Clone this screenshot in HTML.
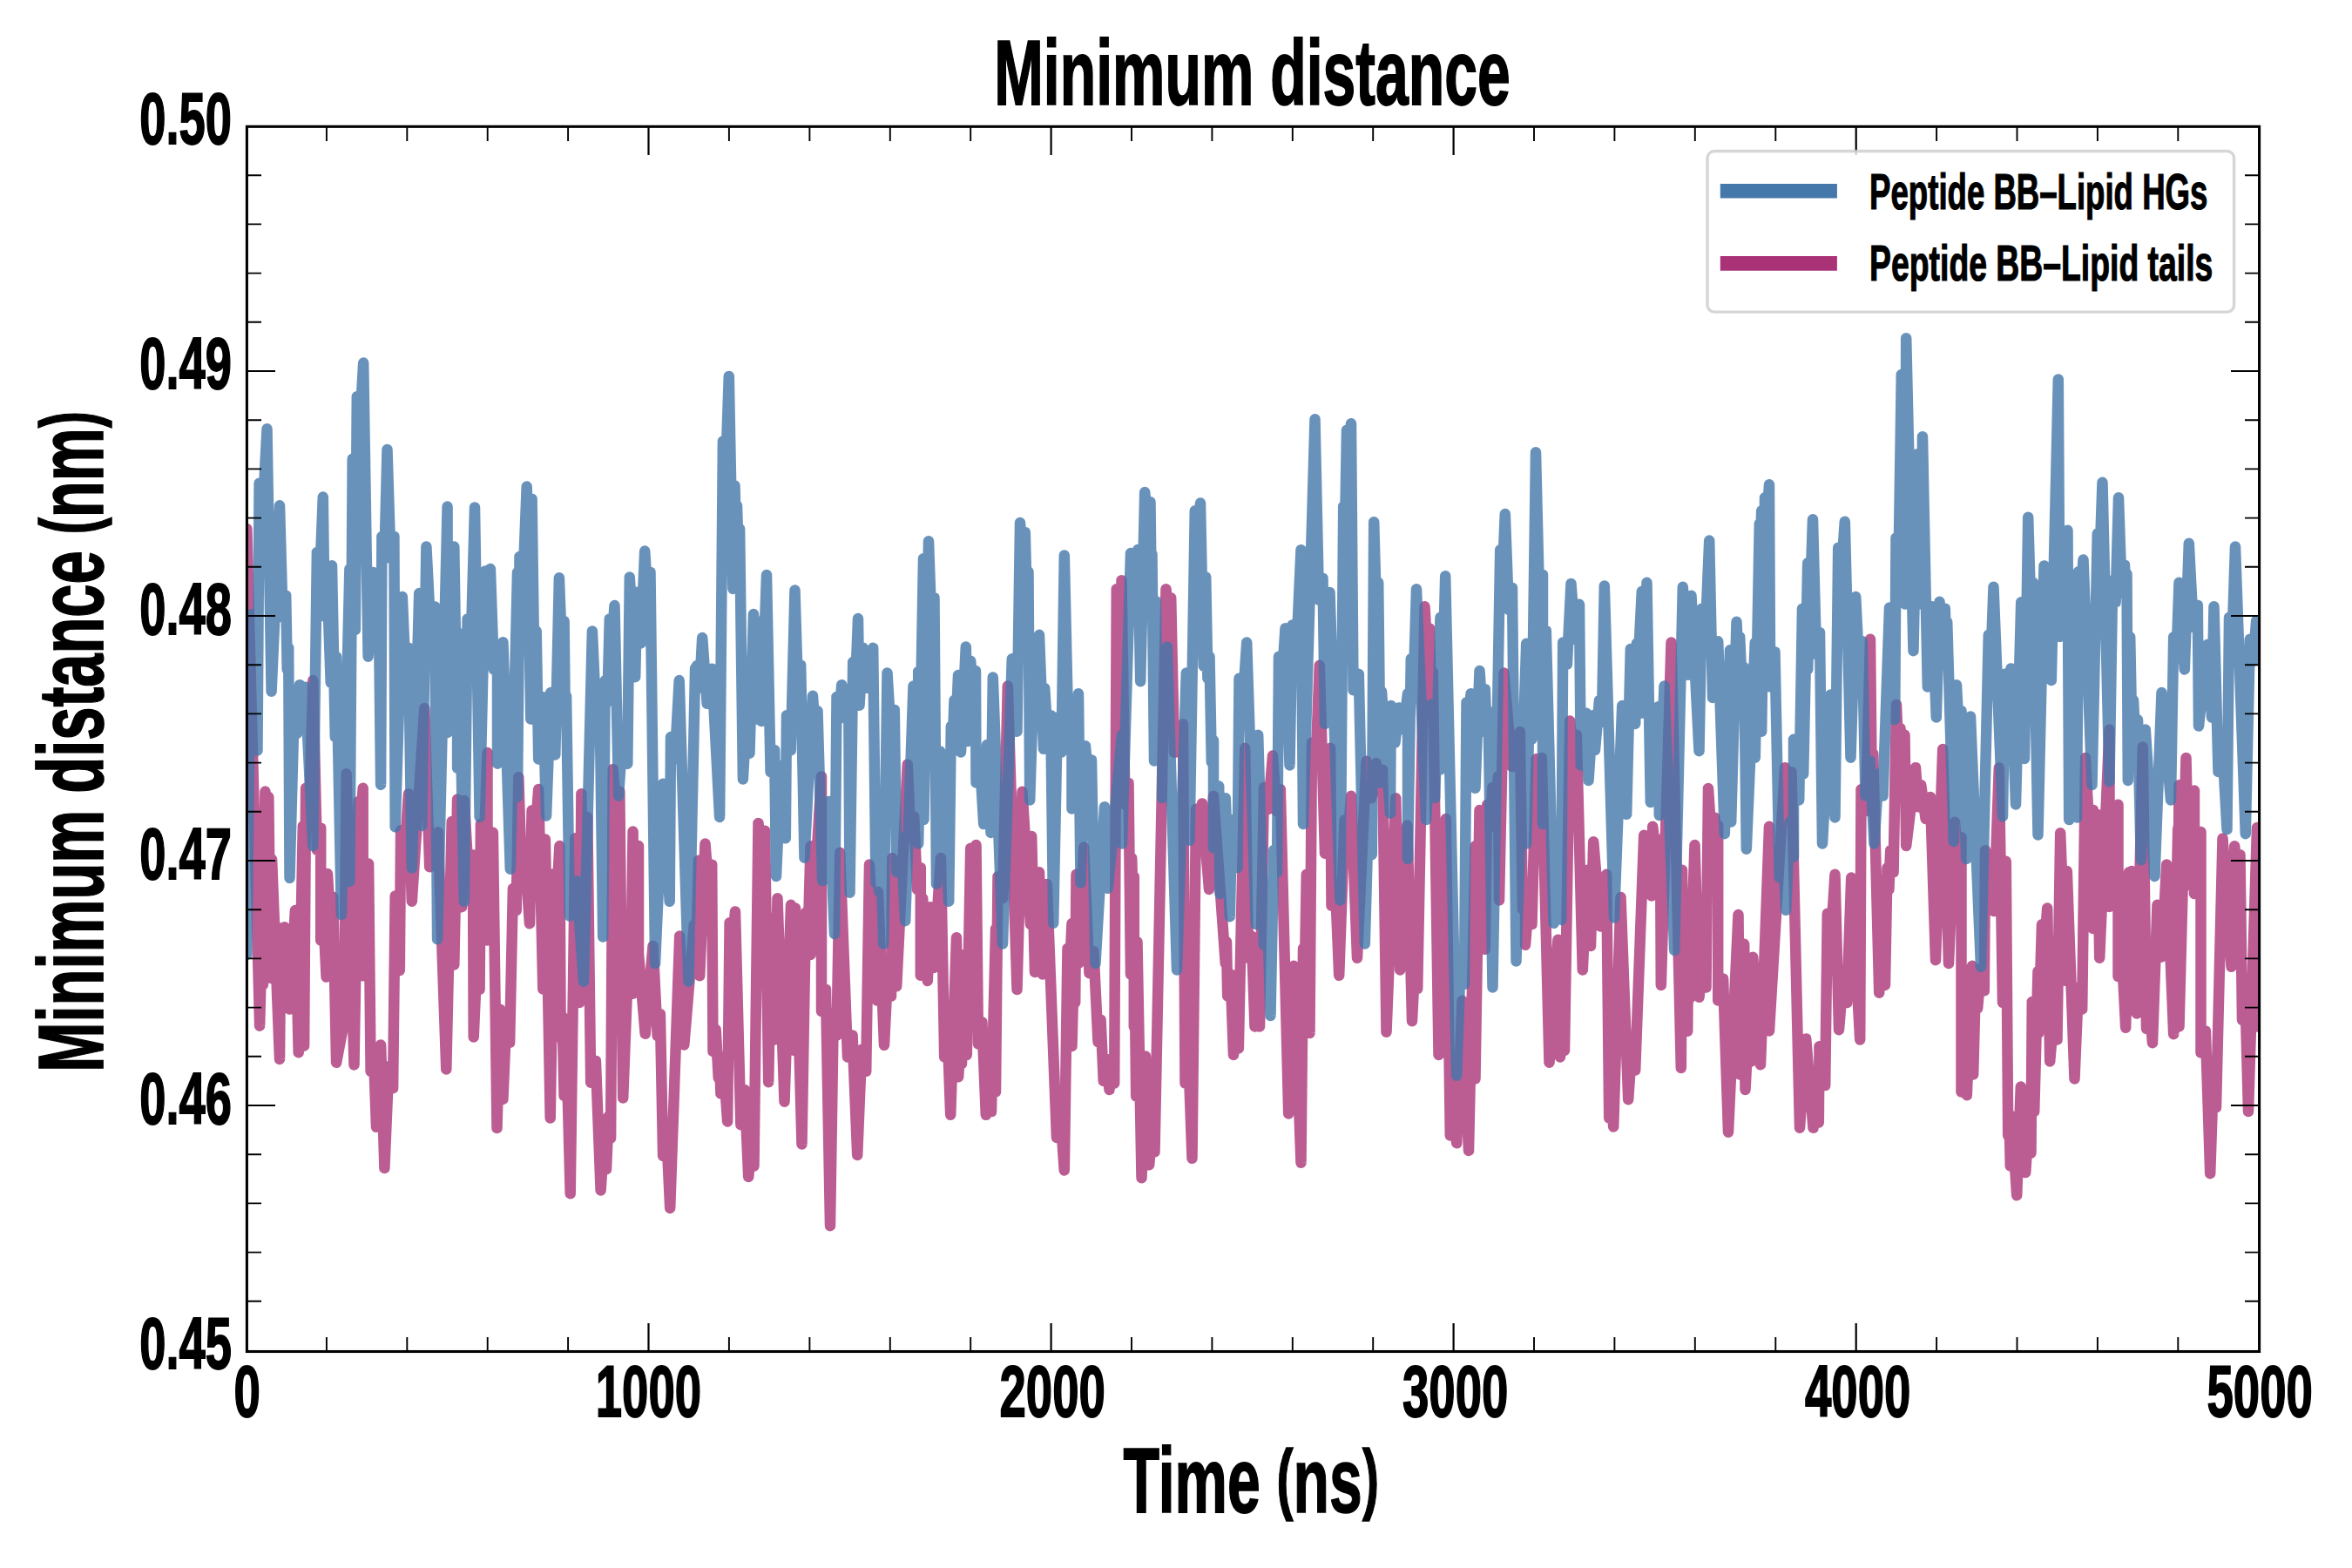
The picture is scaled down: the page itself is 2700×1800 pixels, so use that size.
<!DOCTYPE html>
<html><head><meta charset="utf-8"><title>Minimum distance</title>
<style>html,body{margin:0;padding:0;background:#fff;}svg{display:block;}text{font-family:"Liberation Sans",sans-serif;font-weight:bold;fill:#000;stroke:#000;stroke-width:1.5px;vector-effect:non-scaling-stroke;stroke-linejoin:miter;}</style></head><body>
<svg width="2700" height="1800" viewBox="0 0 2700 1800">
<rect x="0" y="0" width="2700" height="1800" fill="#ffffff"/>
<defs><clipPath id="c"><rect x="283.4" y="145.3" width="2310.2" height="1406.2"/></clipPath></defs>
<g clip-path="url(#c)" fill="none" stroke-linejoin="round" stroke-linecap="round" stroke-width="12.5">
<polyline stroke="#AA3377" stroke-opacity="0.8" points="283.4,607.1 298.1,1177.7 300.0,1105.5 301.9,1130.5 304.4,908.6 306.4,940.0 308.3,915.0 310.8,1122.9 312.1,986.5 321.0,1216.0 322.3,1065.5 324.5,1105.5 326.6,1064.3 332.5,1158.6 338.9,1045.1 342.7,1208.3 347.8,948.2 349.1,1200.7 351.1,904.8 355.2,929.8 359.3,781.1 363.8,975.7 368.2,950.7 368.2,1079.5 371.4,1054.5 374.6,1121.6 375.9,1003.0 379.1,1054.8 382.2,1029.8 386.1,1219.8 391.9,1189.3 395.0,1173.9 397.6,888.2 406.5,1222.4 411.6,920.1 414.1,945.1 416.7,904.8 416.7,1120.3 423.1,991.6 425.6,1230.0 428.8,1205.0 432.0,1293.8 437.1,1199.5 441.4,1341.0 446.3,1224.2 451.1,1249.2 453.7,1028.5 458.8,1114.0 460.1,953.3 464.5,978.3 469.0,911.2 472.8,1034.8 487.3,813.0 493.2,995.3 502.8,955.3 512.3,1227.5 518.7,943.1 521.3,1107.6 525.1,917.6 530.2,1041.2 532.8,918.9 537.9,1006.4 543.0,981.4 543.7,1190.5 547.2,1110.6 550.6,1135.6 551.9,945.6 555.7,970.6 559.5,864.0 559.5,1079.5 565.9,955.8 570.5,1295.1 574.1,1158.7 577.4,1261.9 581.2,1171.9 585.1,1196.9 588.9,1020.0 592.7,1045.0 595.3,892.1 598.4,993.6 601.6,968.6 608.0,1060.3 610.6,930.3 614.4,955.3 618.2,906.1 623.3,1135.6 625.9,963.5 631.7,1283.6 636.1,1003.0 639.3,1028.0 642.4,971.1 643.7,1191.8 645.6,1166.8 647.6,1258.1 651.1,1233.1 654.7,1370.3 660.3,962.2 665.4,1150.9 667.4,911.2 670.3,1140.0 673.1,1100.0 673.7,1125.0 674.3,938.0 678.2,1242.8 683.9,1217.8 689.6,1366.5 692.8,1317.3 696.0,1342.3 698.6,1281.6 701.1,1306.6 703.7,883.1 707.5,933.6 711.3,908.6 715.2,1260.6 721.5,1094.9 724.1,1134.9 726.6,954.6 726.6,1140.7 733.0,971.1 733.0,1119.9 733.0,1094.9 740.7,1186.7 749.6,1085.9 754.7,1189.2 757.9,1164.2 761.1,1327.0 765.2,1302.0 769.2,1386.9 780.2,1074.5 785.3,1199.4 796.8,1061.8 799.3,1086.8 801.9,987.7 803.2,1120.3 809.5,968.6 813.4,1017.8 817.2,992.8 818.5,1207.1 821.7,1182.1 824.8,1237.7 826.1,1212.7 827.4,1255.5 831.2,1230.5 835.1,1287.4 837.6,1059.2 840.8,1084.2 844.0,1046.4 850.4,1291.3 854.8,1251.3 859.2,1351.0 862.4,1313.5 865.5,1338.5 870.5,945.0 874.2,978.8 878.0,953.8 882.2,1242.2 885.5,1053.8 889.2,1193.5 892.5,1031.2 900.5,1264.8 908.0,1038.8 911.8,1206.0 913.0,1042.5 920.5,1313.5 925.0,1047.5 927.8,1072.5 930.5,971.2 930.5,1096.0 943.0,891.2 943.0,1161.0 948.0,1136.0 953.0,1407.2 956.8,1163.5 960.5,1188.5 964.2,978.8 973.0,1213.5 978.6,1188.5 984.2,1326.0 989.2,1204.8 994.2,1229.8 998.0,992.5 1006.8,1148.5 1008.0,1023.8 1015.0,1199.8 1019.0,1118.5 1023.0,1143.5 1024.2,985.0 1029.2,1132.2 1041.8,877.5 1045.5,962.5 1049.2,937.5 1053.0,1021.2 1056.8,996.2 1056.8,1119.8 1059.2,1031.2 1064.8,1126.0 1068.0,1041.2 1071.8,1111.0 1080.0,985.0 1084.2,1213.5 1087.8,1188.5 1091.2,1279.8 1098.0,1076.2 1100.2,1236.2 1102.5,1196.2 1104.0,1221.2 1105.5,1096.2 1109.8,1211.0 1114.2,973.8 1117.4,1013.8 1120.5,970.0 1123.0,1198.5 1127.4,1173.5 1131.8,1279.8 1134.9,1251.0 1138.0,1276.0 1143.0,1066.2 1143.0,1253.5 1145.5,1006.2 1151.1,1031.2 1156.8,787.5 1167.5,1136.0 1173.5,908.8 1183.0,1061.0 1184.2,960.0 1188.0,1116.0 1193.0,1001.2 1196.8,1118.5 1201.8,1015.0 1213.0,1306.0 1217.4,1281.0 1221.8,1343.5 1225.5,1088.8 1228.0,1113.8 1230.5,1060.0 1230.5,1201.0 1232.4,1126.0 1234.2,1151.0 1235.5,1003.8 1238.0,1106.0 1244.2,972.5 1250.5,1117.2 1255.5,1092.2 1260.5,1196.0 1263.6,1171.0 1266.8,1241.0 1270.1,1216.0 1273.5,1251.0 1276.4,1218.5 1279.2,1243.5 1281.8,676.2 1281.8,918.8 1281.8,893.8 1284.6,918.8 1287.5,666.2 1291.5,923.8 1295.5,898.8 1298.0,1118.5 1299.2,985.0 1300.5,1031.2 1301.8,1006.2 1301.8,1178.5 1303.0,1153.5 1304.2,1258.5 1305.5,1081.2 1310.5,1352.2 1315.0,1212.5 1319.2,1337.2 1322.4,1297.2 1325.5,1322.2 1338.5,676.2 1341.4,711.2 1344.2,686.2 1348.0,863.8 1351.8,838.8 1354.9,863.8 1358.0,831.2 1360.5,1243.5 1364.5,1218.5 1368.5,1329.8 1373.0,928.8 1376.5,953.8 1380.0,922.5 1388.0,1021.0 1393.0,913.8 1406.8,1106.0 1408.0,1081.0 1409.2,1143.5 1412.6,1118.5 1416.0,1211.0 1418.9,1178.5 1421.8,1203.5 1429.2,858.8 1433.0,1099.8 1436.8,1074.8 1440.5,1178.5 1443.2,1138.5 1446.0,1178.5 1451.0,903.8 1456.0,928.8 1461.0,867.5 1465.4,931.2 1469.8,906.2 1479.2,1278.5 1485.2,1108.8 1493.5,1334.8 1496.0,1088.8 1497.9,1113.8 1499.8,1003.8 1503.5,1186.0 1506.0,852.5 1510.4,877.5 1514.8,763.8 1521.0,979.8 1527.2,858.8 1528.5,1039.8 1532.9,1014.8 1537.2,1119.8 1543.5,941.2 1547.2,966.2 1551.0,913.8 1558.0,1099.8 1568.5,873.8 1574.1,916.2 1579.8,876.2 1583.5,908.8 1587.2,883.8 1591.5,1184.8 1602.2,916.2 1607.2,1113.5 1615.5,947.5 1621.0,1172.2 1624.1,1109.8 1627.2,1134.8 1635.5,696.2 1638.2,746.2 1641.0,721.2 1642.9,796.2 1644.8,771.2 1651.5,1211.0 1659.8,940.0 1664.8,1303.5 1668.5,1278.5 1672.2,1312.2 1678.5,1148.8 1686.0,1321.0 1693.5,971.2 1693.5,1238.5 1698.5,930.0 1704.8,1089.8 1707.2,923.8 1710.4,948.8 1713.5,903.8 1716.6,928.8 1719.8,891.2 1721.0,1033.5 1726.5,772.5 1735.6,880.0 1744.8,840.0 1747.9,1043.8 1751.0,1018.8 1751.0,1084.8 1754.8,1036.0 1758.5,1061.0 1763.5,871.2 1766.6,896.2 1769.8,870.0 1778.5,1219.8 1788.5,1078.8 1791.0,1213.5 1793.5,1181.0 1796.0,1206.0 1802.2,827.5 1806.0,868.8 1809.8,843.8 1816.8,1113.5 1822.2,998.8 1826.0,1086.0 1829.2,966.2 1837.2,1063.5 1844.2,1003.8 1847.2,1283.5 1849.8,1258.5 1852.2,1293.5 1860.5,1030.0 1869.2,1262.2 1873.2,1203.5 1877.2,1228.5 1887.2,958.8 1889.8,1016.0 1892.9,991.0 1896.0,1028.5 1897.2,948.8 1901.6,988.8 1906.0,963.8 1906.8,1131.0 1918.5,737.5 1929.8,1226.0 1931.0,998.8 1933.5,1183.8 1936.0,1158.8 1937.2,1183.8 1938.5,1038.8 1939.8,1146.0 1945.5,970.0 1950.5,1144.8 1954.5,1108.5 1958.5,1133.5 1961.0,905.0 1964.8,963.8 1968.5,938.8 1970.4,972.5 1972.2,947.5 1972.2,1148.5 1978.1,1123.5 1984.0,1299.8 1995.5,1050.0 1997.2,1233.5 2002.2,1083.8 2003.5,1251.0 2006.6,1193.5 2009.8,1218.5 2012.2,1098.8 2021.0,1222.2 2031.0,948.8 2031.0,1183.5 2049.0,881.2 2052.8,911.2 2056.5,886.2 2066.0,1294.8 2073.2,1192.5 2081.5,1294.8 2084.6,1263.5 2087.8,1288.5 2088.5,1201.2 2095.2,1246.0 2097.8,1048.8 2102.1,1073.8 2106.5,1003.8 2111.0,1182.2 2115.6,1126.0 2120.2,1151.0 2125.2,1007.5 2135.2,1193.5 2136.5,906.2 2141.8,931.2 2147.0,733.8 2148.6,890.0 2150.2,865.0 2157.2,1139.8 2159.0,1018.8 2164.0,1131.0 2166.5,996.2 2168.4,1021.2 2170.2,976.2 2173.6,1001.2 2177.0,808.8 2179.2,861.2 2181.5,836.2 2184.0,868.8 2186.5,843.8 2188.2,971.0 2199.0,881.2 2202.1,926.2 2205.2,901.2 2210.6,940.0 2216.0,915.0 2222.0,1102.2 2230.2,860.0 2237.0,1106.0 2244.0,943.8 2247.8,986.2 2251.5,961.2 2251.5,1253.5 2254.6,1228.5 2257.8,1257.2 2264.0,1108.8 2265.2,1233.5 2267.8,1132.2 2270.2,1157.2 2274.0,1112.2 2277.8,1137.2 2279.0,976.2 2289.0,1046.0 2294.8,881.2 2299.0,1151.0 2302.8,988.8 2305.2,1303.5 2306.5,1278.5 2307.8,1338.5 2311.5,1313.5 2315.2,1372.2 2319.8,1247.5 2325.2,1346.0 2328.4,1298.5 2331.5,1323.5 2332.8,1150.0 2335.2,1276.0 2339.5,1115.0 2340.2,1186.0 2344.0,1061.2 2347.1,1086.2 2350.2,1042.5 2353.2,1218.5 2357.4,1168.5 2361.5,1193.5 2365.2,956.2 2371.5,1126.0 2372.8,1000.0 2381.5,1238.5 2385.9,1133.5 2390.2,1158.5 2394.0,870.0 2398.4,955.0 2402.8,930.0 2402.8,1066.0 2407.8,935.0 2410.2,1099.8 2421.5,837.5 2421.5,1041.0 2431.5,923.8 2431.5,1121.0 2435.9,1096.0 2440.2,1179.8 2444.0,1001.2 2445.5,1026.2 2447.0,1000.0 2452.8,1163.5 2459.8,857.5 2464.0,1181.0 2467.5,1156.0 2471.0,1197.2 2476.5,1038.8 2481.5,1098.5 2487.2,992.5 2495.2,1187.2 2500.2,951.2 2500.9,976.2 2501.5,901.2 2501.5,1178.5 2509.5,870.0 2512.8,1016.0 2519.0,907.5 2519.0,1026.0 2526.5,955.0 2526.5,1208.5 2531.9,1183.5 2537.2,1347.2 2540.6,1246.0 2544.0,1271.0 2551.5,962.5 2561.5,1109.8 2565.2,971.2 2568.4,1006.2 2571.5,981.2 2574.0,1171.0 2577.5,1146.0 2581.0,1276.0 2591.0,950.0 2591.0,1178.5"/>
<polyline stroke="#4477AA" stroke-opacity="0.8" points="283.4,1096.1 287.9,705.3 295.5,861.4 297.6,554.8 302.0,579.8 306.5,492.3 311.6,793.8 321.0,580.3 324.6,708.6 328.2,683.6 329.7,768.6 331.2,743.6 332.5,1008.0 337.6,816.8 340.8,841.8 344.0,786.2 347.2,813.8 350.4,788.8 359.3,971.1 363.9,633.9 367.3,658.9 370.8,570.6 372.6,707.8 376.1,682.8 379.7,783.6 381.0,649.2 384.8,846.1 386.1,753.8 391.9,1050.1 401.4,653.0 401.4,1011.9 404.7,526.8 407.8,723.1 409.8,455.3 413.5,480.3 417.2,416.6 422.6,753.7 428.2,656.9 431.4,694.6 434.5,669.6 437.1,900.9 438.4,616.0 441.4,641.0 444.5,516.0 448.4,641.0 452.4,616.0 453.7,949.4 461.8,684.9 465.4,768.6 469.0,743.6 472.8,996.6 481.2,681.1 484.3,948.1 489.4,627.5 494.2,721.4 499.1,696.4 502.1,1078.2 513.6,581.6 513.6,840.9 521.3,627.5 523.2,750.7 525.1,725.7 525.1,881.8 528.9,841.8 532.8,1034.8 536.6,710.4 540.8,735.4 545.0,582.4 550.6,937.9 557.0,655.6 559.9,695.6 562.9,653.0 566.9,768.6 571.0,743.6 571.0,876.7 577.4,737.2 585.8,997.8 594.0,656.9 594.0,914.9 596.5,639.0 600.6,664.0 604.7,558.6 609.3,825.6 610.6,572.7 613.1,749.5 615.7,724.5 618.2,871.6 623.3,800.2 627.1,936.6 632.2,795.1 637.3,866.5 641.9,663.2 644.7,738.0 647.6,713.0 648.8,824.0 650.1,799.0 653.9,1051.4 662.0,1011.4 670.0,1126.7 679.9,724.5 684.2,820.1 688.4,795.1 692.2,1075.6 694.7,781.1 697.3,806.1 699.8,710.4 702.7,735.4 705.5,695.1 710.1,913.7 715.2,836.7 720.3,876.7 722.8,662.5 729.2,777.2 731.2,679.8 735.6,738.4 740.2,632.6 743.3,681.9 746.5,656.9 752.1,1106.3 761.1,899.7 768.7,1034.8 770.0,846.1 774.8,871.1 779.7,781.1 790.4,1126.7 798.1,767.1 799.1,792.1 800.1,764.0 803.2,789.0 806.2,732.1 811.7,807.8 817.2,767.8 826.1,937.9 829.9,506.4 833.4,531.4 836.8,431.9 841.4,675.9 843.5,557.4 844.7,605.3 846.0,580.3 847.6,632.1 849.1,607.1 852.9,894.5 856.7,824.8 860.5,864.8 865.0,705.0 869.2,825.5 871.8,713.8 874.2,828.0 880.0,660.0 884.6,886.2 889.2,861.2 891.0,1006.0 896.8,878.8 901.8,962.2 903.0,821.2 907.8,861.2 912.5,677.5 915.9,788.8 919.2,763.8 923.5,984.8 933.0,798.8 935.8,841.2 938.5,816.2 944.2,1011.0 951.8,920.0 958.0,1072.2 960.5,800.0 963.4,825.0 966.2,786.2 970.5,798.5 974.2,801.2 975.5,1024.8 979.2,760.0 982.1,785.0 985.0,710.0 986.5,809.8 990.5,743.8 995.0,789.8 1002.2,743.8 1005.5,1013.5 1007.4,988.5 1009.2,1023.5 1011.8,998.5 1014.2,1083.5 1018.5,772.5 1022.6,840.0 1026.8,815.0 1029.2,1001.0 1034.2,961.0 1039.2,1057.2 1048.5,787.5 1054.2,796.0 1054.2,771.0 1054.2,968.5 1060.0,641.2 1060.5,941.0 1066.0,621.2 1069.2,711.2 1072.5,686.2 1075.0,1014.8 1079.2,862.5 1089.2,1034.8 1091.8,833.8 1093.6,858.8 1095.5,803.8 1097.8,828.8 1100.0,775.0 1103.0,863.5 1108.8,742.5 1111.0,851.0 1114.2,758.8 1117.1,795.0 1120.0,770.0 1120.5,898.5 1124.9,873.5 1129.2,946.0 1133.0,855.0 1137.5,956.0 1139.8,777.5 1151.0,1083.5 1161.8,756.2 1167.5,839.8 1171.0,600.0 1173.9,636.2 1176.8,611.2 1178.6,681.2 1180.5,656.2 1182.2,918.5 1188.0,732.5 1190.5,772.5 1193.0,728.8 1198.0,859.8 1199.2,790.0 1202.8,846.2 1206.2,821.2 1209.2,1059.8 1213.9,823.5 1218.5,863.5 1221.8,637.5 1226.1,828.8 1230.5,803.8 1230.5,928.5 1238.0,796.2 1240.5,1013.5 1246.0,856.2 1249.5,897.5 1253.0,872.5 1257.5,1106.0 1268.0,926.2 1271.8,1019.8 1288.0,843.8 1288.0,968.5 1298.0,635.0 1303.5,656.0 1306.4,631.0 1309.2,782.2 1314.2,565.0 1317.4,601.2 1320.5,576.2 1321.5,661.2 1322.5,636.2 1325.0,873.5 1326.8,690.0 1328.6,815.0 1330.5,790.0 1334.2,851.0 1334.2,826.0 1334.2,916.0 1339.8,742.5 1351.0,1113.5 1361.8,772.5 1365.5,964.8 1371.8,586.2 1374.9,611.2 1378.0,577.5 1381.8,764.8 1384.2,662.5 1386.4,778.8 1388.5,753.8 1390.8,875.0 1393.0,850.0 1393.0,973.5 1399.2,902.5 1400.5,1026.0 1406.8,916.2 1411.8,1052.2 1414.2,941.2 1420.5,996.0 1422.5,778.8 1426.9,803.8 1431.2,737.5 1441.8,1061.0 1444.2,843.8 1451.0,1084.8 1454.8,1044.8 1458.5,1166.0 1462.2,976.0 1466.0,1001.0 1468.0,753.8 1471.8,778.8 1475.5,721.2 1480.5,878.5 1483.5,717.5 1488.5,742.5 1493.5,631.2 1496.0,946.0 1509.5,481.2 1514.0,688.8 1518.5,663.8 1521.0,831.0 1526.5,680.0 1538.5,1033.5 1542.2,581.2 1544.1,606.2 1546.0,493.8 1548.5,518.8 1551.0,486.2 1553.5,792.2 1559.8,773.8 1566.8,1083.5 1570.8,941.0 1574.8,981.0 1577.2,599.2 1579.8,693.8 1582.2,668.8 1584.8,898.5 1586.0,793.8 1596.0,933.5 1596.8,810.0 1601.4,852.5 1606.0,812.5 1611.0,837.5 1616.0,796.2 1616.0,986.0 1619.8,756.2 1622.9,781.2 1626.0,676.2 1637.2,941.0 1643.0,808.8 1647.2,916.0 1653.5,708.8 1653.5,883.5 1659.2,661.2 1672.2,1234.8 1676.6,1104.8 1681.0,1129.8 1683.5,806.2 1686.0,831.2 1688.5,796.2 1693.5,904.8 1698.5,770.0 1701.6,816.2 1704.8,791.2 1706.6,841.2 1708.5,816.2 1713.5,1133.5 1722.2,631.2 1725.0,656.2 1727.8,590.0 1731.9,700.0 1736.0,675.0 1740.5,1103.5 1752.2,738.8 1752.2,968.5 1755.4,823.5 1758.5,848.5 1763.0,519.2 1767.0,685.0 1771.0,660.0 1771.0,946.0 1774.8,723.8 1783.5,1059.8 1787.9,1031.0 1792.2,1056.0 1794.2,737.5 1798.9,762.5 1803.5,670.0 1808.2,733.8 1813.0,693.8 1814.8,878.5 1821.0,818.8 1823.5,896.0 1828.5,821.2 1831.0,861.0 1836.0,803.8 1838.9,828.8 1841.8,672.5 1853.0,1053.5 1862.2,810.0 1867.2,934.8 1871.8,745.0 1877.2,831.0 1878.9,738.5 1880.5,763.5 1884.8,678.8 1885.5,818.5 1890.5,668.8 1894.8,921.0 1903.5,811.2 1904.8,936.0 1910.5,787.5 1922.2,1091.0 1931.8,673.8 1938.0,774.8 1941.5,683.8 1950.5,862.2 1953.5,698.8 1957.9,723.8 1962.2,620.5 1966.0,801.0 1972.2,736.2 1979.8,957.2 1986.0,746.2 1987.2,943.5 1993.5,713.8 1995.4,756.2 1997.2,731.2 1999.8,791.2 2002.2,766.2 2004.8,974.8 2014.8,737.5 2014.8,869.8 2019.8,601.2 2021.0,626.2 2022.2,586.2 2022.2,839.8 2026.0,571.2 2028.5,596.2 2031.0,556.2 2032.2,788.5 2037.5,748.5 2042.8,1007.2 2046.5,967.2 2050.2,1044.8 2054.6,943.5 2059.0,983.5 2059.0,848.8 2065.2,918.5 2069.0,698.8 2070.2,888.5 2075.2,646.2 2075.2,768.5 2081.0,596.2 2085.0,751.2 2089.0,726.2 2092.0,968.5 2101.5,797.5 2106.5,938.5 2110.2,628.8 2114.0,653.8 2117.8,598.8 2124.5,869.8 2130.2,685.0 2134.0,761.2 2137.8,736.2 2141.5,913.5 2146.5,873.5 2151.5,968.5 2156.5,888.5 2161.5,913.5 2169.0,697.5 2175.2,826.0 2176.5,617.5 2179.6,642.5 2182.8,430.0 2187.0,693.5 2188.2,388.2 2196.5,747.2 2201.0,521.2 2205.2,693.5 2207.0,501.2 2212.8,788.5 2217.8,696.2 2222.8,823.5 2226.5,690.8 2229.6,723.8 2232.8,698.8 2234.0,738.8 2235.2,713.8 2242.8,966.0 2246.0,786.2 2248.8,841.2 2251.5,816.2 2257.2,986.0 2262.0,822.5 2274.0,1109.8 2282.8,728.8 2285.6,753.8 2288.5,673.8 2299.0,937.2 2301.5,773.8 2305.0,798.8 2308.5,767.5 2314.0,923.5 2320.2,691.2 2324.0,871.0 2328.2,593.8 2331.1,693.8 2334.0,668.8 2339.5,958.5 2346.5,649.5 2353.5,681.0 2354.1,656.0 2354.8,781.0 2362.8,435.5 2364.5,731.0 2373.5,608.8 2375.2,941.0 2379.6,913.5 2384.0,938.5 2386.0,656.2 2388.8,681.2 2391.5,642.5 2401.5,901.0 2407.8,612.5 2410.6,637.5 2413.5,553.8 2421.5,897.2 2425.2,666.2 2428.6,691.2 2432.0,571.2 2435.5,673.8 2439.0,648.8 2440.2,683.8 2441.5,658.8 2442.8,896.0 2445.2,731.2 2447.1,828.8 2449.0,803.8 2451.5,851.2 2454.0,826.2 2457.8,987.2 2462.8,837.5 2473.5,1006.0 2481.5,795.0 2492.0,918.5 2495.2,731.2 2498.4,756.2 2501.5,668.8 2507.8,768.5 2512.8,623.8 2517.8,720.0 2522.8,695.0 2524.0,833.5 2534.0,740.0 2539.0,823.5 2541.5,696.2 2546.5,886.0 2551.5,861.0 2556.5,952.2 2559.0,708.8 2562.5,733.8 2566.0,627.5 2577.8,957.2 2582.8,733.8 2586.5,758.8 2590.2,712.5"/>
</g>
<g stroke="#000" fill="none">
<path d="M374.9 1551.5V1534.9M374.9 145.3V161.9" stroke-width="1.9"/><path d="M467.3 1551.5V1534.9M467.3 145.3V161.9" stroke-width="1.9"/><path d="M559.7 1551.5V1534.9M559.7 145.3V161.9" stroke-width="1.9"/><path d="M652.1 1551.5V1534.9M652.1 145.3V161.9" stroke-width="1.9"/><path d="M744.5 1551.5V1518.9M744.5 145.3V177.9" stroke-width="2.2"/><path d="M836.9 1551.5V1534.9M836.9 145.3V161.9" stroke-width="1.9"/><path d="M929.4 1551.5V1534.9M929.4 145.3V161.9" stroke-width="1.9"/><path d="M1021.8 1551.5V1534.9M1021.8 145.3V161.9" stroke-width="1.9"/><path d="M1114.2 1551.5V1534.9M1114.2 145.3V161.9" stroke-width="1.9"/><path d="M1206.6 1551.5V1518.9M1206.6 145.3V177.9" stroke-width="2.2"/><path d="M1299.0 1551.5V1534.9M1299.0 145.3V161.9" stroke-width="1.9"/><path d="M1391.4 1551.5V1534.9M1391.4 145.3V161.9" stroke-width="1.9"/><path d="M1483.8 1551.5V1534.9M1483.8 145.3V161.9" stroke-width="1.9"/><path d="M1576.2 1551.5V1534.9M1576.2 145.3V161.9" stroke-width="1.9"/><path d="M1668.6 1551.5V1518.9M1668.6 145.3V177.9" stroke-width="2.2"/><path d="M1761.0 1551.5V1534.9M1761.0 145.3V161.9" stroke-width="1.9"/><path d="M1853.4 1551.5V1534.9M1853.4 145.3V161.9" stroke-width="1.9"/><path d="M1945.8 1551.5V1534.9M1945.8 145.3V161.9" stroke-width="1.9"/><path d="M2038.3 1551.5V1534.9M2038.3 145.3V161.9" stroke-width="1.9"/><path d="M2130.7 1551.5V1518.9M2130.7 145.3V177.9" stroke-width="2.2"/><path d="M2223.1 1551.5V1534.9M2223.1 145.3V161.9" stroke-width="1.9"/><path d="M2315.5 1551.5V1534.9M2315.5 145.3V161.9" stroke-width="1.9"/><path d="M2407.9 1551.5V1534.9M2407.9 145.3V161.9" stroke-width="1.9"/><path d="M2500.3 1551.5V1534.9M2500.3 145.3V161.9" stroke-width="1.9"/><path d="M283.4 1493.8H300.0M2593.6 1493.8H2577.0" stroke-width="1.9"/><path d="M283.4 1437.6H300.0M2593.6 1437.6H2577.0" stroke-width="1.9"/><path d="M283.4 1381.4H300.0M2593.6 1381.4H2577.0" stroke-width="1.9"/><path d="M283.4 1325.2H300.0M2593.6 1325.2H2577.0" stroke-width="1.9"/><path d="M283.4 1269.0H316.0M2593.6 1269.0H2561.0" stroke-width="2.2"/><path d="M283.4 1212.8H300.0M2593.6 1212.8H2577.0" stroke-width="1.9"/><path d="M283.4 1156.6H300.0M2593.6 1156.6H2577.0" stroke-width="1.9"/><path d="M283.4 1100.4H300.0M2593.6 1100.4H2577.0" stroke-width="1.9"/><path d="M283.4 1044.2H300.0M2593.6 1044.2H2577.0" stroke-width="1.9"/><path d="M283.4 988.0H316.0M2593.6 988.0H2561.0" stroke-width="2.2"/><path d="M283.4 931.8H300.0M2593.6 931.8H2577.0" stroke-width="1.9"/><path d="M283.4 875.6H300.0M2593.6 875.6H2577.0" stroke-width="1.9"/><path d="M283.4 819.4H300.0M2593.6 819.4H2577.0" stroke-width="1.9"/><path d="M283.4 763.2H300.0M2593.6 763.2H2577.0" stroke-width="1.9"/><path d="M283.4 707.0H316.0M2593.6 707.0H2561.0" stroke-width="2.2"/><path d="M283.4 650.8H300.0M2593.6 650.8H2577.0" stroke-width="1.9"/><path d="M283.4 594.6H300.0M2593.6 594.6H2577.0" stroke-width="1.9"/><path d="M283.4 538.4H300.0M2593.6 538.4H2577.0" stroke-width="1.9"/><path d="M283.4 482.2H300.0M2593.6 482.2H2577.0" stroke-width="1.9"/><path d="M283.4 426.0H316.0M2593.6 426.0H2561.0" stroke-width="2.2"/><path d="M283.4 369.8H300.0M2593.6 369.8H2577.0" stroke-width="1.9"/><path d="M283.4 313.6H300.0M2593.6 313.6H2577.0" stroke-width="1.9"/><path d="M283.4 257.4H300.0M2593.6 257.4H2577.0" stroke-width="1.9"/><path d="M283.4 201.2H300.0M2593.6 201.2H2577.0" stroke-width="1.9"/>
<rect x="283.4" y="145.3" width="2310.2" height="1406.2" stroke-width="3.1"/>
</g>
<text transform="translate(1141.2 119.7) scale(0.6410 1)" font-size="106" >Minimum distance</text>
<text transform="translate(1289.4 1736.3) scale(0.6410 1)" font-size="106" >Time <tspan font-size="89" dy="-9.5">(</tspan><tspan dy="9.5">ns</tspan><tspan font-size="89" dy="-9.5">)</tspan></text>
<text transform="translate(118.3 1230.7) rotate(-90) scale(0.6471 1)" font-size="106">Minimum distance <tspan font-size="89" dy="-9.5">(</tspan><tspan dy="9.5">nm</tspan><tspan font-size="89" dy="-9.5">)</tspan></text>
<text transform="translate(160.2 165.2) scale(0.6542 1)" font-size="83" >0.50</text>
<text transform="translate(160.2 446.4) scale(0.6542 1)" font-size="83" >0.49</text>
<text transform="translate(160.2 727.7) scale(0.6542 1)" font-size="83" >0.48</text>
<text transform="translate(160.2 1008.9) scale(0.6542 1)" font-size="83" >0.47</text>
<text transform="translate(160.2 1290.2) scale(0.6542 1)" font-size="83" >0.46</text>
<text transform="translate(160.2 1571.4) scale(0.6542 1)" font-size="83" >0.45</text>
<text transform="translate(268.4 1626.4) scale(0.6581 1)" font-size="83" >0</text>
<text transform="translate(683.7 1626.4) scale(0.6581 1)" font-size="83" >1000</text>
<text transform="translate(1147.4 1626.4) scale(0.6581 1)" font-size="83" >2000</text>
<text transform="translate(1610.0 1626.4) scale(0.6581 1)" font-size="83" >3000</text>
<text transform="translate(2072.0 1626.4) scale(0.6581 1)" font-size="83" >4000</text>
<text transform="translate(2533.5 1626.4) scale(0.6581 1)" font-size="83" >5000</text>
<rect x="1960" y="173.5" width="604.6" height="184.6" rx="8" ry="8" fill="#fff" fill-opacity="0.8" stroke="#cccccc" stroke-opacity="0.8" stroke-width="3.4"/>
<path d="M1974.8 219.3H2108.9" stroke="#4477AA" stroke-width="16.6" fill="none"/>
<path d="M1974.8 302.4H2108.9" stroke="#AA3377" stroke-width="16.6" fill="none"/>
<text transform="translate(2146.1 240.0) scale(0.6343 1)" font-size="57.7" style="stroke-width:1px">Peptide BB–Lipid HGs</text>
<text transform="translate(2146.1 322.2) scale(0.6473 1)" font-size="57.7" style="stroke-width:1px">Peptide BB–Lipid tails</text>
</svg></body></html>
